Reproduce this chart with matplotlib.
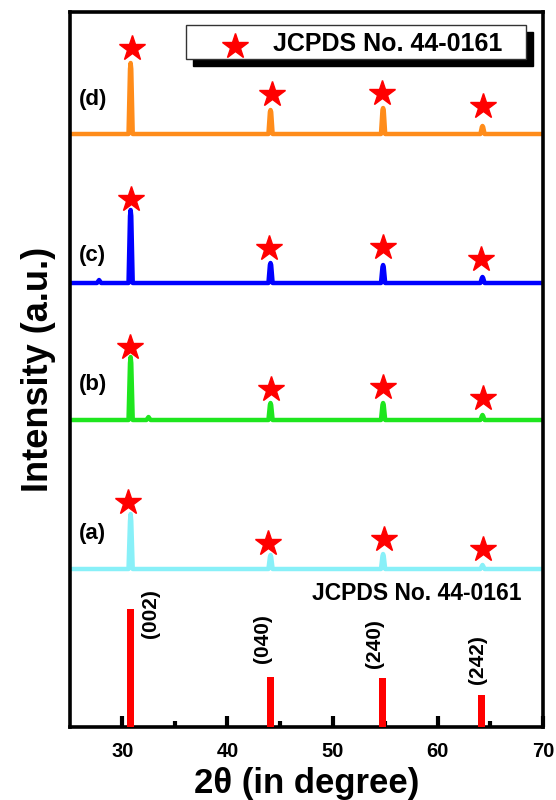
import matplotlib
matplotlib.use("Agg")
import matplotlib.pyplot as plt
from matplotlib.patches import Rectangle

plt.rcParams['font.family'] = ['Liberation Sans', 'DejaVu Sans']
plt.rcParams['font.weight'] = 'bold'

# 2theta grid shared by the four patterns
two_theta = [25, 27.6, 27.8, 28.0, 30.6, 30.74, 30.8, 30.86, 31.0, 32.3, 32.5, 32.7,
             43.9, 44.04, 44.1, 44.16, 44.3, 54.6, 54.74, 54.8, 54.86, 55.0,
             64.05, 64.19, 64.25, 64.31, 64.45, 70]

int_a = [158, 158, 158, 158, 158, 206, 213, 206, 158, 158, 158, 158,
         158, 170, 172, 170, 158, 158, 171, 173, 171, 158,
         158, 161, 162, 161, 158, 158]
int_b = [307, 307, 307, 307, 307, 364, 370, 364, 307, 307, 310, 307,
         307, 322, 324, 322, 307, 307, 322, 324, 322, 307,
         307, 311, 312, 311, 307, 307]
int_c = [444, 444, 447, 444, 444, 511, 517, 511, 444, 444, 444, 444,
         444, 462, 464, 462, 444, 444, 460, 462, 460, 444,
         444, 449, 450, 449, 444, 444]
int_d = [593, 593, 593, 593, 593, 658, 664, 658, 593, 593, 593, 593,
         593, 615, 617, 615, 593, 593, 617, 619, 617, 593,
         593, 600, 601, 600, 593, 593]

# star markers above peaks
star_x_a = [30.55, 43.9, 54.9, 64.3]
star_y_a = [225, 184, 188, 178]
star_x_b = [30.7, 44.1, 54.8, 64.3]
star_y_b = [380, 338, 340, 329]
star_x_c = [30.8, 44.0, 54.8, 64.1]
star_y_c = [528, 479, 480, 468]
star_x_d = [30.9, 44.2, 54.7, 64.3]
star_y_d = [679, 633, 634, 621]

# JCPDS 44-0161 reference lines
ref_pos = [30.83, 44.06, 54.73, 64.13]
ref_int = [118, 50, 49, 32]
ref_hkl = ['(002)', '(040)', '(240)', '(242)']
hkl_x = [32.65, 43.3, 54.03, 63.73]
hkl_y = [113, 88, 83, 67]

fig = plt.figure(figsize=(5.56, 8), dpi=100)
ax = fig.add_axes([0.1252, 0.09125, 0.8514, 0.89375])

ax.plot(two_theta, int_a, color='#88f0f8', lw=3.2, solid_joinstyle='round')
ax.plot(two_theta, int_b, color='#1ee61e', lw=3.2, solid_joinstyle='round')
ax.plot(two_theta, int_c, color='#0000ff', lw=3.2, solid_joinstyle='round')
ax.plot(two_theta, int_d, color='#ff8c1a', lw=3.2, solid_joinstyle='round')

for sx, sy in [(star_x_a, star_y_a), (star_x_b, star_y_b),
               (star_x_c, star_y_c), (star_x_d, star_y_d)]:
    ax.plot(sx, sy, ls='none', marker='*', ms=19, color='#ff0000', mec='#ff0000')

ax.bar(ref_pos, ref_int, width=0.66, color='#ff0000', zorder=3)
for hx, hy, t in zip(hkl_x, hkl_y, ref_hkl):
    ax.text(hx, hy, t, rotation=90, ha='center', va='center', fontsize=15, fontweight='bold')

ax.text(68.0, 134, 'JCPDS No. 44-0161', ha='right', va='center', fontsize=16.5, fontweight='bold')

for lab, yy in zip(['(a)', '(b)', '(c)', '(d)'], [194, 342, 471, 627]):
    ax.text(27.2, yy, lab, ha='center', va='center', fontsize=16, fontweight='bold')

# legend-like box with black shadow
ax.add_patch(Rectangle((0.261, 0.924), 0.718, 0.048, transform=ax.transAxes,
                       facecolor='black', edgecolor='black', zorder=5))
ax.add_patch(Rectangle((0.246, 0.934), 0.718, 0.048, transform=ax.transAxes,
                       facecolor='white', edgecolor='#333333', lw=1, zorder=6))
ax.plot([0.349], [0.953], transform=ax.transAxes, marker='*', ms=19,
        color='#ff0000', ls='none', zorder=7)
ax.text(0.43, 0.955, 'JCPDS No. 44-0161', transform=ax.transAxes, ha='left', va='center',
        fontsize=18, fontweight='bold', zorder=7)

ax.set_xlim(25, 70)
ax.set_ylim(0, 715)
ax.set_xticks([30, 40, 50, 60, 70])
ax.set_xticks([35, 45, 55, 65], minor=True)
ax.set_yticks([])
ax.tick_params(axis='x', which='major', direction='in', length=8, width=3,
               labelsize=14.5, pad=11, color='black')
ax.tick_params(axis='x', which='minor', direction='in', length=4, width=3, color='black')
ax.tick_params(axis='y', which='both', left=False, right=False)
for s in ax.spines.values():
    s.set_linewidth(2.6)

ax.set_xlabel('2θ (in degree)', fontsize=25, fontweight='bold', labelpad=4)
ax.set_ylabel('Intensity (a.u.)', fontsize=26, fontweight='bold')
ax.yaxis.set_label_coords(-0.028, 0.5)

fig.savefig('out.png', dpi=100)
